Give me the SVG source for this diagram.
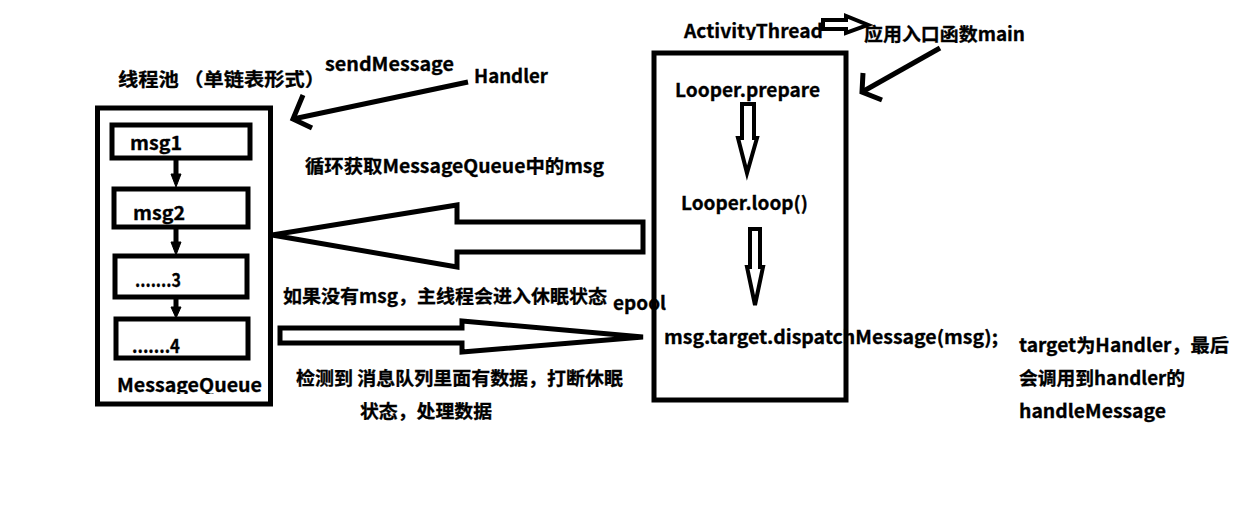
<svg xmlns="http://www.w3.org/2000/svg" width="1254" height="528" viewBox="0 0 1254 528">
<style>
text{font-family:"Noto Sans CJK SC","Noto Sans",sans-serif;font-weight:bold;font-size:18.5px;fill:#000;stroke:#000;stroke-width:0.3}
.box{fill:none;stroke:#000;stroke-width:5}
.ln{fill:none;stroke:#000;stroke-width:5;stroke-linecap:butt;stroke-linejoin:miter}
.hollow{fill:#fff;stroke:#000;stroke-width:5;stroke-linejoin:miter}
.small{fill:#000;stroke:#000;stroke-width:1}
</style>
<defs>
<clipPath id="clipMQ"><rect x="100" y="368" width="168" height="26"/></clipPath>
<clipPath id="clipAT"><rect x="680" y="12" width="145" height="28"/></clipPath>
</defs>
<rect width="1254" height="528" fill="#fff"/>

<g id="title">
<text x="118" y="86" textLength="207" lengthAdjust="spacingAndGlyphs">线程池 （单链表形式）</text>
</g>

<g id="messagequeue">
<rect class="box" x="97.5" y="108" width="173" height="296"/>
<text x="117" y="392" textLength="145" lengthAdjust="spacingAndGlyphs" clip-path="url(#clipMQ)">MessageQueue</text>
</g>
<g id="msg1">
<rect class="box" x="112" y="125" width="138" height="33"/>
<text x="130" y="150" textLength="52" lengthAdjust="spacingAndGlyphs">msg1</text>
</g>
<g id="msg2">
<rect class="box" x="114" y="189" width="134" height="38"/>
<text x="133" y="220" textLength="52" lengthAdjust="spacingAndGlyphs">msg2</text>
</g>
<g id="msg3">
<rect class="box" x="115" y="256" width="132" height="41"/>
<text x="135" y="287" textLength="46" lengthAdjust="spacingAndGlyphs">.......3</text>
</g>
<g id="msg4">
<rect class="box" x="116" y="319" width="132" height="39"/>
<text x="132" y="353" textLength="48" lengthAdjust="spacingAndGlyphs">.......4</text>
</g>

<g id="handler">
<text x="325" y="71" textLength="129" lengthAdjust="spacingAndGlyphs">sendMessage</text>
<text x="474" y="83" textLength="74" lengthAdjust="spacingAndGlyphs">Handler</text>
</g>

<g id="activitythread">
<text x="684" y="38" textLength="139" lengthAdjust="spacingAndGlyphs" clip-path="url(#clipAT)">ActivityThread</text>
<text x="864" y="41" textLength="161" lengthAdjust="spacingAndGlyphs">应用入口函数main</text>
</g>

<g id="looper">
<text x="664" y="344" textLength="334" lengthAdjust="spacingAndGlyphs">msg.target.dispatchMessage(msg);</text>
<rect class="box" x="654" y="53" width="192" height="347"/>
<text x="675" y="97" textLength="145" lengthAdjust="spacingAndGlyphs">Looper.prepare</text>
<text x="681" y="210" textLength="127" lengthAdjust="spacingAndGlyphs">Looper.loop()</text>
</g>

<g id="labels">
<text x="305" y="173" textLength="299" lengthAdjust="spacingAndGlyphs">循环获取MessageQueue中的msg</text>
<text x="283" y="303" textLength="324" lengthAdjust="spacingAndGlyphs">如果没有msg，主线程会进入休眠状态</text>
<text x="613" y="310" textLength="53" lengthAdjust="spacingAndGlyphs">epool</text>
<text x="296" y="385" textLength="327" lengthAdjust="spacingAndGlyphs">检测到 消息队列里面有数据，打断休眠</text>
<text x="360" y="418" textLength="132" lengthAdjust="spacingAndGlyphs">状态，处理数据</text>
<text x="1019" y="352" textLength="210" lengthAdjust="spacingAndGlyphs">target为Handler，最后</text>
<text x="1019" y="385" textLength="166" lengthAdjust="spacingAndGlyphs">会调用到handler的</text>
<text x="1019" y="418" textLength="147" lengthAdjust="spacingAndGlyphs">handleMessage</text>
</g>

<g id="connectors">
<line class="ln" x1="176" y1="160" x2="176" y2="180"/>
<polygon class="small" points="171,174 181,174 176,187"/>
<line class="ln" x1="176" y1="228" x2="176" y2="248"/>
<polygon class="small" points="171,242 181,242 176,255"/>
<line class="ln" x1="176" y1="298" x2="176" y2="312"/>
<polygon class="small" points="171,307 181,307 176,318"/>
<polyline class="ln" points="468,82 293,119"/>
<polyline class="ln" points="303,95 293,119 312,128"/>
<polygon class="hollow" points="272,235 457,205 457,222 643,222 643,252 457,252 457,267"/>
<polygon class="hollow" points="280,328 462,328 462,321 643,337 462,352 462,343 280,343"/>
<polygon class="hollow" style="stroke-width:4" points="823,20 846,20 846,16 868,25 846,33 846,29 823,29"/>
<polyline class="ln" points="940,48 862,92"/>
<polyline class="ln" points="863,73 862,92 882,100"/>
<polygon class="hollow" style="stroke-width:4" points="742,104 754,104 754,138 757,138 747,173 738,138 742,138"/>
<polygon class="hollow" style="stroke-width:4" points="750,229 760,229 760,267 763,267 755,305 747,267 750,267"/>
</g>
</svg>
